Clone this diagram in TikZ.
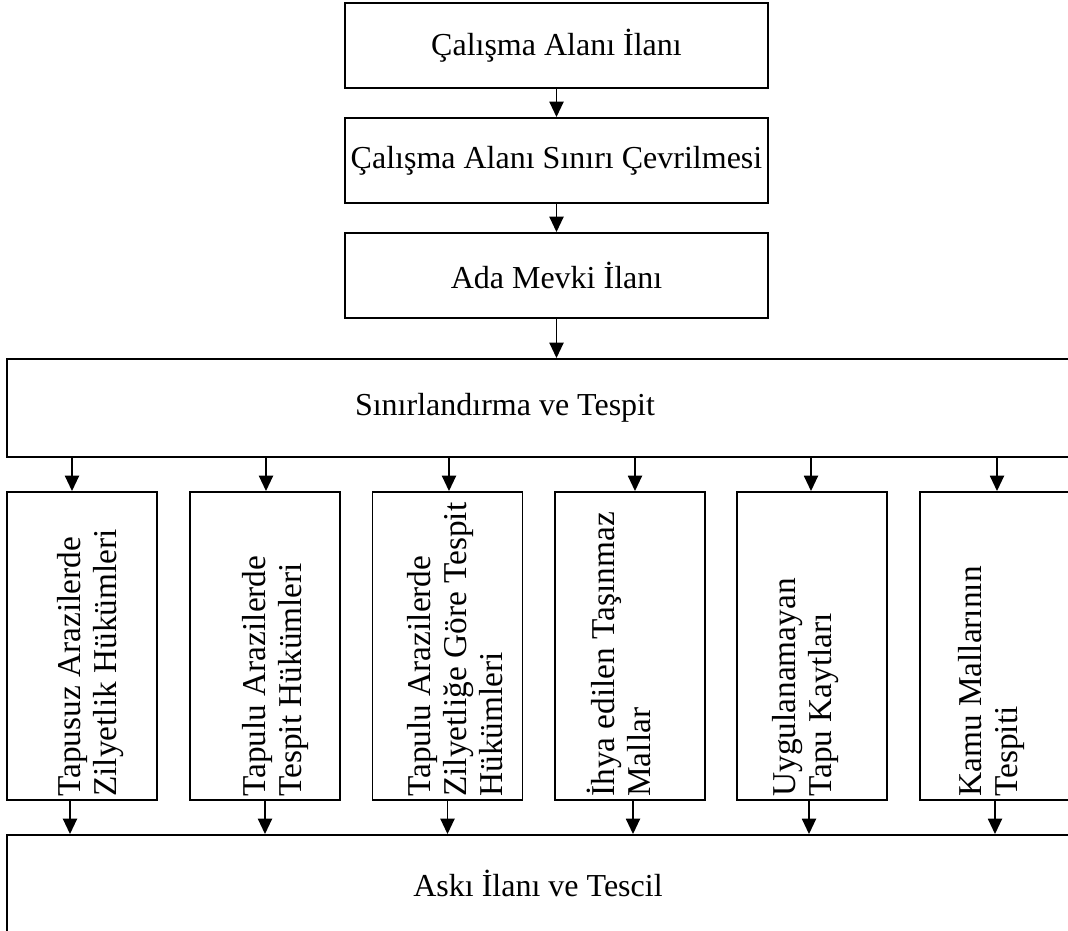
\documentclass[tikz,border=0pt]{standalone}
\usepackage{fontspec}
\setmainfont{Liberation Serif}
\usetikzlibrary{arrows.meta,positioning}

\tikzset{
  stepbox/.style={draw, line width=1.4pt, inner sep=0pt},
  topbox/.style={stepbox, minimum width={423*0.75pt}, minimum height={85*0.75pt}},
  widebox/.style={stepbox, minimum width={1093*0.75pt}},
  colbox/.style={stepbox, minimum width={150*0.75pt}, minimum height={308*0.75pt}},
  coltext/.style={rotate=90, anchor=north west, align=left, inner sep=0pt,
    font=\fontsize{25}{27}\selectfont},
  flow/.style={line width=1.4pt, -{Triangle[width=10.5pt,length=11.5pt]}}
}

\begin{document}
\begin{tikzpicture}[x=0.75pt,y=-0.75pt,font=\fontsize{24}{27.6}\selectfont]
  \useasboundingbox[fill=white] (0,0) rectangle (1068,931);
  % upper chain
  \node[topbox] (ilan) at (556.5,45.5) {Çalışma Alanı İlanı};
  \node[topbox] (sinir) at (556.5,160.5) {Çalışma Alanı Sınırı Çevrilmesi};
  \node[topbox] (mevki) at (556.5,275.5) {Ada Mevki İlanı};
  \draw[flow] (ilan.south) -- (sinir.north);
  \draw[flow] (sinir.south) -- (mevki.north);
  % wide boxes
  \node[widebox, minimum height={98*0.75pt}] (tespit) at (553.5,408) {};
  \node (tespitlbl) at (505,408) {Sınırlandırma ve Tespit};
  \node[widebox, minimum height={130*0.75pt}] (aski) at (553.5,900) {};
  \node (askilbl) at (538,883) {Askı İlanı ve Tescil};
  \draw[flow] (mevki.south) -- (mevki.south |- tespit.north);
  % columns
  \foreach \n/\cx in {tapusuz/82,tapulu/265,zilyet/447.5,ihya/630,uygula/812,kamu/995}{
    \node[colbox] (\n) at (\cx,646) {};
  }
  \node[coltext] at ([shift={(51,-4)}]tapusuz.south west) {Tapusuz Arazilerde\\Zilyetlik Hükümleri};
  \node[coltext] at ([shift={(53,-4)}]tapulu.south west) {Tapulu Arazilerde\\Tespit Hükümleri};
  \node[coltext] at ([shift={(36,-4)}]zilyet.south west) {Tapulu Arazilerde\\Zilyetliğe Göre Tespit\\Hükümleri};
  \node[coltext] at ([shift={(33,-4)}]ihya.south west) {İhya edilen Taşınmaz\\Mallar};
  \node[coltext] at ([shift={(36,-4)}]uygula.south west) {Uygulanamayan\\Tapu Kaytları};
  \node[coltext] at ([shift={(39,-4)}]kamu.south west) {Kamu Mallarının\\Tespiti};
  % arrows in and out of the columns
  \foreach \n/\dt/\db in {tapusuz/-10/-12,tapulu/1/0,zilyet/1.5/0,ihya/5/3,uygula/-1/-3,kamu/2/0}{
    \coordinate (t\n) at ([xshift={\dt*0.75}]\n.north);
    \coordinate (b\n) at ([xshift={\db*0.75}]\n.south);
    \draw[flow] (tespit.south -| t\n) -- (t\n);
    \draw[flow] (b\n) -- (b\n |- aski.north);
  }
\end{tikzpicture}
\end{document}
